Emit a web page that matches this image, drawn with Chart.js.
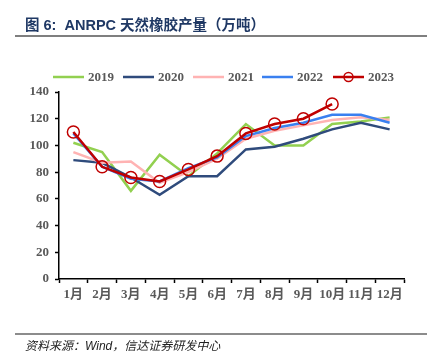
<!DOCTYPE html>
<html lang="zh">
<head>
  <meta charset="UTF-8">
  <title>ANRPC 天然橡胶产量</title>
  <script src="https://cdn.jsdelivr.net/npm/chart.js"></script>
  <style>
    body { margin: 0; background: #fff; }
    #wrap { position: relative; width: 440px; height: 363px; }
    #title {
      position: absolute; left: 25px; top: 13px;
      font: bold 14.5px "Liberation Sans", "Noto Sans CJK SC", sans-serif;
      color: #1f3864; white-space: pre;
    }
    #rule-top { position: absolute; left: 15px; top: 35px; width: 412px; height: 2px; background: #7f7f7f; }
    #rule-bottom { position: absolute; left: 15px; top: 333px; width: 412px; height: 2px; background: #8c8c8c; }
    #source {
      position: absolute; left: 25px; top: 336px;
      font: italic 12px "Liberation Sans", "Noto Sans CJK SC", sans-serif;
      color: #222;
    }
    canvas { position: absolute; left: 0; top: 0; }
  </style>
</head>
<body>
  <div id="wrap">
    <canvas id="rubberChart" width="440" height="363"></canvas>
    <div id="title">图 6:  ANRPC 天然橡胶产量（万吨）</div>
    <div id="rule-top"></div>
    <div id="rule-bottom"></div>
    <div id="source">资料来源：Wind，信达证券研发中心</div>
  </div>

  <script>
    // 月份
    const months = ['1月', '2月', '3月', '4月', '5月', '6月', '7月', '8月', '9月', '10月', '11月', '12月'];

    // 各年产量（万吨）
    const y2019 = [102, 95, 66, 93, 77, 94, 116, 100, 100, 116, 118, 121];
    const y2020 = [89, 87, 76, 63, 77, 77, 97, 99, 105, 112, 117, 112];
    const y2021 = [95, 87, 88, 72, 80, 90, 105, 111, 115, 119, 121, 119];
    const y2022 = [109, 84, 75, 73, 83, 91, 107, 113, 117, 123, 123, 117];
    const y2023 = [110, 84, 76, 73, 82, 92, 109, 116, 120, 131];

    const years = ['2019', '2020', '2021', '2022', '2023'];
    const colors = ['#92d050', '#2f4b7c', '#ffb3b3', '#3a80f0', '#c00000'];
    const seriesData = [y2019, y2020, y2021, y2022, y2023];

    const tickFont = { family: '"Liberation Serif", "Noto Sans CJK SC", serif', size: 13, weight: 'bold' };

    // 手工绘制图例（2023 带圆圈标记）
    const legendPlugin = {
      id: 'manualLegend',
      afterDraw(chart) {
        const ctx = chart.ctx;
        const startX = [53, 123, 193, 262, 333];
        const y = 77;
        ctx.save();
        ctx.font = 'bold 13px "Liberation Serif", serif';
        ctx.textBaseline = 'middle';
        chart.data.datasets.forEach((ds, i) => {
          const x = startX[i];
          ctx.strokeStyle = ds.borderColor;
          ctx.lineWidth = 2.5;
          ctx.beginPath();
          ctx.moveTo(x, y);
          ctx.lineTo(x + 31, y);
          ctx.stroke();
          if (ds.pointRadius > 0) {
            ctx.lineWidth = 1.5;
            ctx.beginPath();
            ctx.arc(x + 15.5, y, 4.5, 0, Math.PI * 2);
            ctx.stroke();
          }
          ctx.fillStyle = '#595959';
          ctx.fillText(ds.label, x + 35, y + 1);
        });
        ctx.restore();
      }
    };

    const ctx = document.getElementById('rubberChart').getContext('2d');
    new Chart(ctx, {
      type: 'line',
      data: {
        labels: months,
        datasets: years.map((yr, i) => ({
          label: yr,
          data: seriesData[i],
          borderColor: colors[i],
          backgroundColor: 'transparent',
          borderWidth: 2.5,
          tension: 0,
          pointRadius: yr === '2023' ? 6 : 0,
          pointHoverRadius: yr === '2023' ? 6 : 0,
          pointBorderWidth: 1.5,
          pointBorderColor: colors[i],
          pointBackgroundColor: 'rgba(0,0,0,0)',
          order: 5 - i
        }))
      },
      options: {
        responsive: false,
        animation: false,
        layout: { padding: { left: 0, top: 92, right: 36, bottom: 0 } },
        plugins: {
          legend: { display: false },
          tooltip: { enabled: false }
        },
        scales: {
          x: {
            offset: true,
            grid: { offset: true, drawOnChartArea: false, tickLength: 4, color: '#000', tickWidth: 1.5 },
            border: { color: '#000', width: 1.5 },
            ticks: { font: tickFont, color: '#595959', padding: 4, maxRotation: 0, autoSkip: false },
            afterFit(scale) { scale.height = 84; }
          },
          y: {
            min: 0,
            max: 140,
            grid: { drawOnChartArea: false, tickLength: 4, color: '#000', tickWidth: 1.5 },
            border: { color: '#000', width: 1.5 },
            ticks: { stepSize: 20, font: tickFont, color: '#595959', padding: 6 },
            afterFit(scale) { scale.width = 59; }
          }
        }
      },
      plugins: [legendPlugin]
    });
  </script>
</body>
</html>
